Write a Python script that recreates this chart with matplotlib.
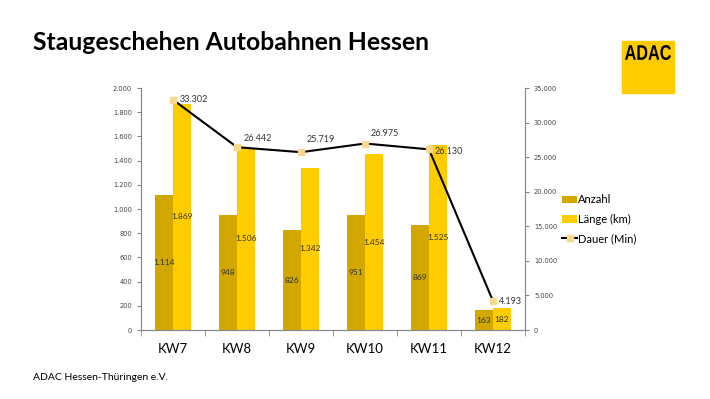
import matplotlib.pyplot as plt
import numpy as np
from matplotlib.patches import Rectangle, PathPatch
from matplotlib.textpath import TextPath
from matplotlib.font_manager import FontProperties
from matplotlib.transforms import Affine2D
from matplotlib.ticker import FuncFormatter

# data
weeks = ["KW7", "KW8", "KW9", "KW10", "KW11", "KW12"]
anzahl = [1114, 948, 826, 951, 869, 163]
laenge = [1869, 1506, 1342, 1454, 1525, 182]
dauer = [33302, 26442, 25719, 26975, 26130, 4193]

# label offsets (points) for the Dauer labels, as placed in the original
dauer_offsets = [(5, 0), (5, 6), (4.3, 9), (4.3, 7), (4.3, -1.4), (4.3, 0)]


def de_fmt(v, pos=None):
    # German thousands separator
    return f"{int(round(v)):,}".replace(",", ".")


c_anz = "#D1A700"
c_len = "#FFCC00"
c_marker = "#F7D98C"
c_axis = "#888888"

plt.rcParams["font.family"] = ["Lato", "DejaVu Sans"]

fig = plt.figure(figsize=(7.1, 3.99), dpi=100)
ax = fig.add_axes([0.1986, 0.1729, 0.5408, 0.6065])
ax2 = ax.twinx()

x = np.arange(len(weeks))
w = 0.28

b1 = ax.bar(x - w / 2, anzahl, w, color=c_anz, label="Anzahl", zorder=2)
b2 = ax.bar(x + w / 2, laenge, w, color=c_len, label="Länge (km)", zorder=2)

for xi, v in zip(x, anzahl):
    ax.text(xi - w / 2, v / 2, de_fmt(v), ha="center", va="center",
            fontsize=6, color="#333333", zorder=3)
for xi, v in zip(x, laenge):
    ax.text(xi + w / 2, v / 2, de_fmt(v), ha="center", va="center",
            fontsize=6, color="#333333", zorder=3)

ln, = ax2.plot(x, dauer, color="black", lw=1.5, marker="s", ms=4,
               mfc=c_marker, mec=c_marker, label="Dauer (Min)", zorder=4)
for xi, v, off in zip(x, dauer, dauer_offsets):
    ax2.annotate(de_fmt(v), (xi, v), xytext=off, textcoords="offset points",
                 ha="left", va="center", fontsize=6.5, color="#333333")

ax.set_xlim(-0.5, len(weeks) - 0.5)
ax.set_ylim(0, 2000)
ax2.set_ylim(0, 35000)
ax.set_yticks(np.arange(0, 2001, 200))
ax2.set_yticks(np.arange(0, 35001, 5000))
ax.yaxis.set_major_formatter(FuncFormatter(de_fmt))
ax2.yaxis.set_major_formatter(FuncFormatter(de_fmt))

ax.set_xticks(x)
ax.set_xticklabels(weeks, fontsize=9.5)
ax.set_xticks(np.arange(-0.5, len(weeks), 1), minor=True)
ax.tick_params(axis="x", which="major", length=0, pad=9)
ax.tick_params(axis="x", which="minor", length=4, color=c_axis)

for a in (ax, ax2):
    a.spines["top"].set_visible(False)
    for s in ("left", "right", "bottom"):
        a.spines[s].set_color(c_axis)
        a.spines[s].set_linewidth(0.8)
    a.tick_params(axis="y", labelsize=4.8, labelcolor="#444444",
                  color=c_axis, length=3)
    for lab in a.get_yticklabels():
        lab.set_family("DejaVu Sans")

fig.legend(handles=[b1, b2, ln], loc="upper left", bbox_to_anchor=(0.785, 0.524),
           frameon=False, fontsize=8, handlelength=1.4, handletextpad=0.1,
           labelspacing=0.75, borderaxespad=0)

fig.text(0.046, 0.893, "Staugeschehen Autobahnen Hessen", fontsize=17.8,
         fontweight="bold", ha="left", va="center")
fig.text(0.046, 0.055, "ADAC Hessen-Thüringen e.V.", fontsize=7.5,
         ha="left", va="center")

# logo box with condensed "ADAC" lettering
fig.patches.append(Rectangle((622, 399 - 93), 52, 52, transform=None,
                             color=c_len, zorder=0))
tp = TextPath((0, 0), "ADAC",
              prop=FontProperties(family="Liberation Sans", weight="bold"), size=10)
ext = tp.get_extents()
sx = 46 / ext.width
sy = 15 / ext.height
tr = Affine2D().translate(-ext.x0, -ext.y0).scale(sx, sy).translate(625, 399 - 60)
fig.patches.append(PathPatch(tr.transform_path(tp), transform=None,
                             color="black", lw=0, zorder=1))

fig.savefig("out.png", dpi=100)
